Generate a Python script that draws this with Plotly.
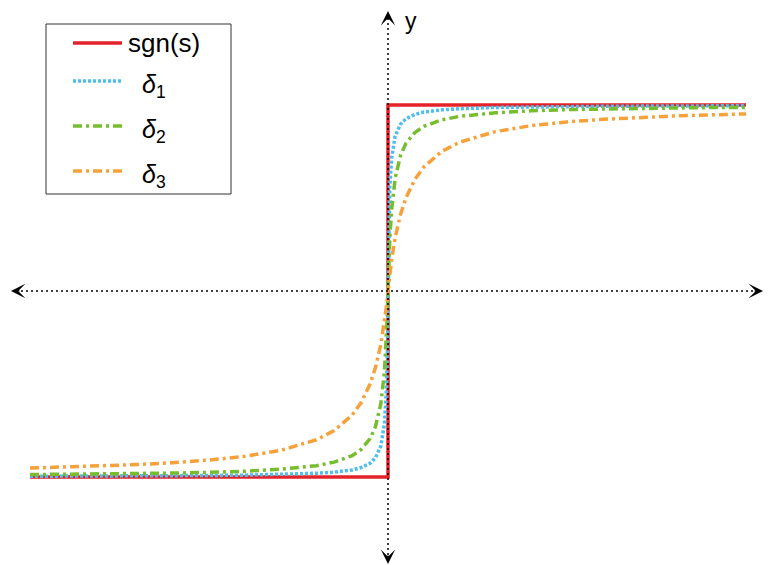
import plotly.graph_objects as go

# ---- data ----
s_values = [-1.0, -0.9, -0.8, -0.7, -0.6, -0.5, -0.4, -0.3, -0.2, -0.15, -0.1, -0.075, -0.05, -0.035,
            -0.02, -0.01, -0.005, -0.002, 0.0, 0.002, 0.005, 0.01, 0.02, 0.035, 0.05, 0.075, 0.1,
            0.15, 0.2, 0.3, 0.4, 0.5, 0.6, 0.7, 0.8, 0.9, 1.0]

sgn_x = [-1.0, 0.0, 0.0, 1.0]
sgn_y = [-1.0, -1.0, 1.0, 1.0]

delta1_y = [-0.996, -0.996, -0.995, -0.994, -0.993, -0.992, -0.990, -0.987, -0.980, -0.974, -0.962,
            -0.949, -0.926, -0.897, -0.833, -0.714, -0.556, -0.333, 0.0, 0.333, 0.556, 0.714, 0.833,
            0.897, 0.926, 0.949, 0.962, 0.974, 0.980, 0.987, 0.990, 0.992, 0.993, 0.994, 0.995,
            0.996, 0.996]

delta2_y = [-0.987, -0.986, -0.984, -0.982, -0.979, -0.975, -0.969, -0.958, -0.939, -0.920, -0.885,
            -0.852, -0.794, -0.729, -0.606, -0.435, -0.278, -0.133, 0.0, 0.133, 0.278, 0.435, 0.606,
            0.729, 0.794, 0.852, 0.885, 0.920, 0.939, 0.958, 0.969, 0.975, 0.979, 0.982, 0.984,
            0.986, 0.987]

delta3_y = [-0.952, -0.947, -0.941, -0.933, -0.923, -0.909, -0.889, -0.857, -0.800, -0.750, -0.667,
            -0.600, -0.500, -0.412, -0.286, -0.167, -0.091, -0.038, 0.0, 0.038, 0.091, 0.167, 0.286,
            0.412, 0.500, 0.600, 0.667, 0.750, 0.800, 0.857, 0.889, 0.909, 0.923, 0.933, 0.941,
            0.947, 0.952]

legend_labels = ["sgn(s)", "<i>δ</i><sub>1</sub>", "<i>δ</i><sub>2</sub>", "<i>δ</i><sub>3</sub>"]
axis_x_label = "x"
axis_y_label = "y"

# ---- styles ----
OFF = 8  # default page body margin
W, H = 776 - OFF, 565 - OFF
RED = "#E5222A"
BLUE = "#4DBEEE"
GREEN = "#77BE2E"
ORANGE = "#F7A13A"
DASHDOT = "9px,4px,3px,4px"
DOT = "3px,2px"
LW = 3.5
FONT = "Liberation Sans, Arial, sans-serif"

# screen geometry: origin at (388, 291); 358 px per x unit, 186 px per y unit
X0, Y0, SX, SY = 388.0 - OFF, 291.0 - OFF, 358.0, 186.0
x_range = [(0 - X0) / SX, (W - X0) / SX]
y_range = [(Y0 - H) / SY, (Y0 - 0) / SY]


def dx(px):
    return (px - OFF - X0) / SX


def dy(py):
    return (Y0 - (py - OFF)) / SY


def fx(px):
    return (px - OFF) / W


def fy(py):
    return 1 - (py - OFF) / H


fig = go.Figure()

fig.add_trace(go.Scatter(x=sgn_x, y=sgn_y, mode="lines", line=dict(color=RED, width=3.5),
                         showlegend=False, name="sgn(s)"))
fig.add_trace(go.Scatter(x=s_values, y=delta1_y, mode="lines", line=dict(color=BLUE, width=LW, dash=DOT),
                         showlegend=False, name="δ1"))
fig.add_trace(go.Scatter(x=s_values, y=delta2_y, mode="lines", line=dict(color=GREEN, width=LW, dash=DASHDOT),
                         showlegend=False, name="δ2"))
fig.add_trace(go.Scatter(x=s_values, y=delta3_y, mode="lines", line=dict(color=ORANGE, width=LW, dash=DASHDOT),
                         showlegend=False, name="δ3"))

# dotted coordinate axes
fig.add_trace(go.Scatter(x=[dx(16), dx(756)], y=[0, 0], mode="lines",
                         line=dict(color="black", width=1.5, dash="2px,3px"), showlegend=False,
                         hoverinfo="skip"))
fig.add_trace(go.Scatter(x=[0, 0], y=[dy(18), dy(556)], mode="lines",
                         line=dict(color="black", width=1.5, dash="2px,3px"), showlegend=False,
                         hoverinfo="skip"))

annotations = []
# arrowheads
for (tx, ty, ax, ay) in [(763, 291, -10, 0), (11, 291, 10, 0), (388, 11, 0, 10), (388, 564, 0, -10)]:
    annotations.append(dict(x=dx(tx), y=dy(ty), xref="x", yref="y", ax=ax, ay=ay, text="",
                            showarrow=True, arrowhead=3, arrowsize=2.0, arrowwidth=1.2,
                            arrowcolor="black"))
# axis labels
annotations.append(dict(x=fx(403), y=fy(21), xref="paper", yref="paper", text=axis_y_label,
                        showarrow=False, xanchor="left", yanchor="middle",
                        font=dict(family=FONT, size=23, color="black")))
annotations.append(dict(x=fx(767), y=fy(291), xref="paper", yref="paper", text=axis_x_label,
                        showarrow=False, xanchor="left", yanchor="middle",
                        font=dict(family=FONT, size=23, color="black")))

# manual legend
shapes = [dict(type="rect", xref="paper", yref="paper", x0=fx(46), x1=fx(231), y0=fy(194), y1=fy(24),
               line=dict(color="#333333", width=1), fillcolor="white", layer="above")]
legend_rows = [(43, RED, "solid", 126, 26), (81, BLUE, DOT, 140, 25),
               (126, GREEN, DASHDOT, 140, 25), (171, ORANGE, DASHDOT, 140, 25)]
for (py, color, dash, tx, fs), label in zip(legend_rows, legend_labels):
    shapes.append(dict(type="line", xref="paper", yref="paper", x0=fx(73), x1=fx(122), y0=fy(py), y1=fy(py),
                       line=dict(color=color, width=3.5, dash=dash), layer="above"))
    annotations.append(dict(x=fx(tx), y=fy(py if label == "sgn(s)" else py + 5), xref="paper", yref="paper",
                            text=label, showarrow=False, xanchor="left", yanchor="middle",
                            font=dict(family=FONT, size=fs, color="black")))

fig.update_layout(
    width=W, height=H,
    margin=dict(l=0, r=0, t=0, b=0),
    paper_bgcolor="white", plot_bgcolor="white",
    xaxis=dict(range=x_range, visible=False, fixedrange=True),
    yaxis=dict(range=y_range, visible=False, fixedrange=True),
    shapes=shapes,
    annotations=annotations,
    showlegend=False,
)

fig.write_html("out.html")
